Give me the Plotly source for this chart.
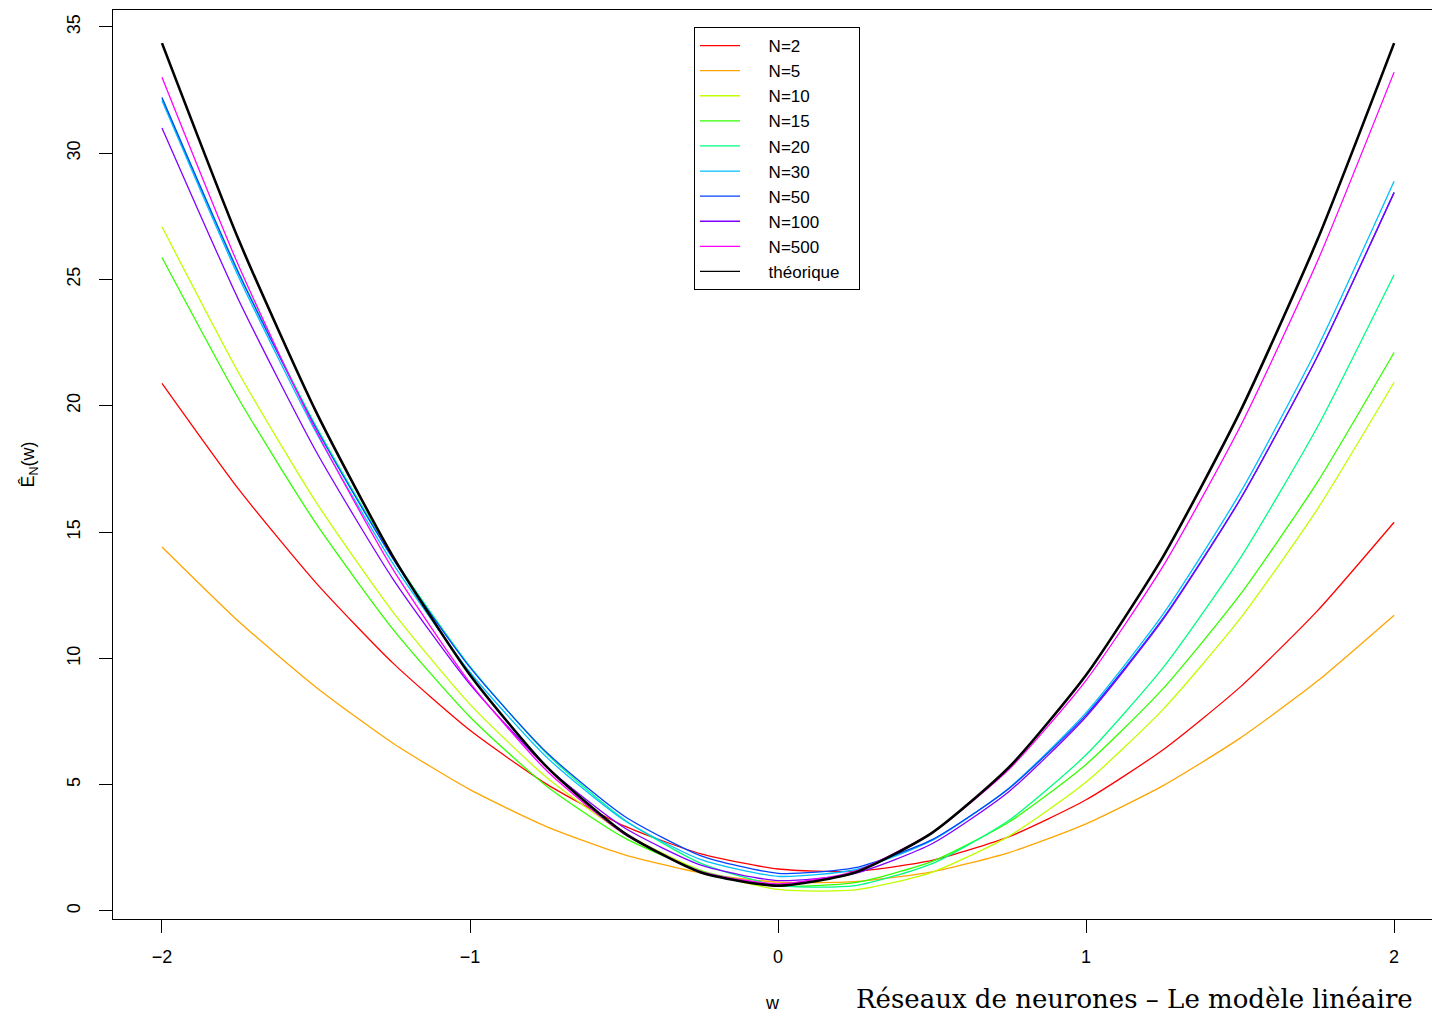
import plotly.graph_objects as go

w = [-2, -1.75, -1.5, -1.25, -1, -0.75, -0.5, -0.25, 0, 0.25, 0.5, 0.75, 1, 1.25, 1.5, 1.75, 2]

e_n2 = [20.89, 16.68, 12.99, 9.81, 7.15, 5.01, 3.37, 2.26, 1.66, 1.57, 2.00, 2.94, 4.40, 6.38, 8.86, 11.87, 15.39]
e_n5 = [14.41, 11.45, 8.86, 6.64, 4.80, 3.33, 2.23, 1.50, 1.14, 1.16, 1.55, 2.31, 3.45, 4.96, 6.84, 9.09, 11.71]
e_n10 = [27.09, 21.28, 16.19, 11.83, 8.18, 5.27, 3.07, 1.60, 0.85, 0.83, 1.53, 2.96, 5.10, 7.98, 11.57, 15.89, 20.93]
e_n15 = [25.87, 20.25, 15.34, 11.15, 7.68, 4.93, 2.90, 1.59, 0.99, 1.12, 1.96, 3.52, 5.80, 8.80, 12.52, 16.96, 22.11]
e_n20 = [32.19, 25.26, 19.20, 14.01, 9.68, 6.21, 3.62, 1.88, 1.01, 1.00, 1.87, 3.59, 6.18, 9.63, 13.96, 19.14, 25.19]
e_n30 = [32.09, 25.07, 18.95, 13.75, 9.45, 6.07, 3.59, 2.03, 1.37, 1.63, 2.79, 4.87, 7.85, 11.75, 16.55, 22.27, 28.89]
e_n50 = [32.21, 25.22, 19.12, 13.94, 9.64, 6.26, 3.76, 2.18, 1.49, 1.71, 2.82, 4.85, 7.76, 11.59, 16.30, 21.93, 28.45]
e_n100 = [31.00, 24.16, 18.20, 13.14, 8.97, 5.69, 3.30, 1.81, 1.20, 1.49, 2.66, 4.73, 7.69, 11.54, 16.28, 21.92, 28.44]
e_n500 = [33.01, 25.51, 19.02, 13.52, 9.03, 5.54, 3.05, 1.56, 1.07, 1.58, 3.10, 5.61, 9.13, 13.65, 19.17, 25.69, 33.21]
e_theo = [34.36, 26.54, 19.77, 14.03, 9.34, 5.69, 3.09, 1.52, 1.00, 1.52, 3.09, 5.69, 9.34, 14.03, 19.77, 26.54, 34.36]

names = ["N=2", "N=5", "N=10", "N=15", "N=20", "N=30", "N=50", "N=100", "N=500", "théorique"]
series = [e_n2, e_n5, e_n10, e_n15, e_n20, e_n30, e_n50, e_n100, e_n500, e_theo]
colors = ["#FF0000", "#FFA500", "#BFFF00", "#33FF00", "#00FF80", "#00BFFF",
          "#0044FF", "#8000FF", "#FF00FF", "#000000"]
widths = [1.3] * 9 + [2.6]

y_ticks = [0, 5, 10, 15, 20, 25, 30, 35]
x_ticks = [-2, -1, 0, 1, 2]

font = "Liberation Sans, Arial, Helvetica, sans-serif"
PW, PH, L, T = 1319, 909, 113, 10
NB = "\u00a0"

fig = go.Figure()
for n, s, c, lw in zip(names, series, colors, widths):
    label = NB * 5 + n + NB * 3
    # curve itself
    fig.add_trace(go.Scatter(x=w, y=s, mode="lines", name=label, legendgroup=n,
                             showlegend=(lw < 2),
                             line=dict(color=c, width=lw, shape="spline", smoothing=0.6)))
    if lw >= 2:
        # legend sample drawn with a thin line, as in the original legend
        fig.add_trace(go.Scatter(x=[None], y=[None], mode="lines", name=label,
                                 legendgroup=n, showlegend=True,
                                 line=dict(color=c, width=1.3)))

fig.update_layout(
    width=1432, height=1015,
    margin=dict(l=L, r=0, t=T, b=96, autoexpand=False),
    paper_bgcolor="white", plot_bgcolor="white",
    font=dict(family=font, size=18, color="black"),
    showlegend=True,
    legend=dict(x=(694 - L) / PW, y=1 - (27 - T) / PH,
                xanchor="left", yanchor="top",
                bordercolor="black", borderwidth=1, bgcolor="white",
                font=dict(size=17), tracegroupgap=0, itemwidth=40),
    xaxis=dict(range=[-2.159, 2.123], tickvals=x_ticks,
               ticktext=["\u22122", "\u22121", "0", "1", "2"],
               showgrid=False, zeroline=False, showline=True, linecolor="black",
               linewidth=1.3, mirror=True, ticks="outside", ticklen=13,
               tickcolor="black", ticklabelstandoff=8,
               title=dict(text="w", standoff=30, font=dict(size=18))),
    yaxis=dict(range=[-0.32, 35.67], tickvals=y_ticks, tickangle=-90,
               showgrid=False, zeroline=False, showline=True, linecolor="black",
               linewidth=1.3, ticks="outside", ticklen=13, tickcolor="black",
               ticklabelstandoff=12,
               title=dict(text="Ê<sub>N</sub>(w)", standoff=24, font=dict(size=18))),
)

fig.add_annotation(text="Réseaux de neurones – Le modèle linéaire",
                   xref="paper", yref="paper", x=(854 - L) / PW, y=-(999 - 919) / PH,
                   xanchor="left", yanchor="middle", showarrow=False,
                   font=dict(family="DejaVu Serif, Liberation Serif, serif", size=26, color="black"))

fig.write_html("out.html")
